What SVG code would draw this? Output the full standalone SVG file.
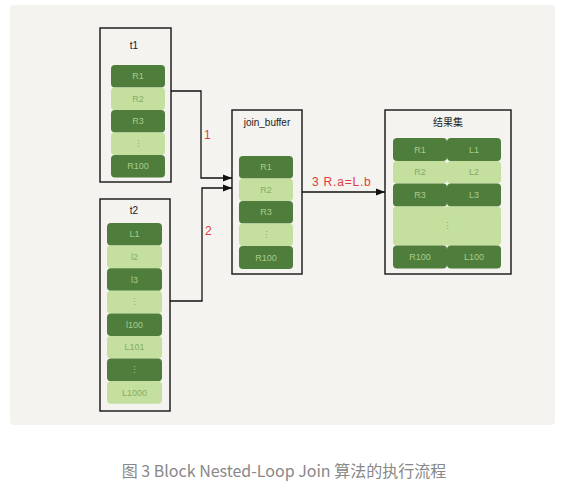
<svg xmlns="http://www.w3.org/2000/svg" width="569" height="492" viewBox="0 0 569 492">
<defs>
<style>
.box{fill:#f4f3ef;stroke:#222;stroke-width:1.5}
.d{fill:#4f7d3b}
.l{fill:#c5df9e}
.td{font-family:"Liberation Sans",sans-serif;font-size:9px;fill:#a9cc8c;text-anchor:middle;dominant-baseline:central}
.tl{font-family:"Liberation Sans",sans-serif;font-size:9px;fill:#86ad62;text-anchor:middle;dominant-baseline:central}
.hd{font-family:"Liberation Sans","Noto Sans CJK SC",sans-serif;font-size:10px;fill:#222;text-anchor:middle;dominant-baseline:central}
.red{font-family:"Liberation Sans",sans-serif;font-size:12px;fill:#e03c3c;dominant-baseline:central}
.ln{fill:none;stroke:#111;stroke-width:1.3}
</style>
<marker id="ar" viewBox="0 0 10 10" refX="10" refY="5" markerWidth="7" markerHeight="7" orient="auto"><path d="M0,1 L10,5 L0,9 z" fill="#111"/></marker>
</defs>
<rect x="10" y="5" width="545" height="420" rx="4" fill="#f4f3ef"/>
<g id="t1">
<rect class="box" x="100" y="28" width="71" height="154"/>
<text class="hd" x="134" y="45">t1</text>
<rect class="d" x="111" y="65" width="54" height="22.5" rx="4"/><text class="td" x="138" y="76">R1</text>
<rect class="l" x="111" y="87.5" width="54" height="22.5" rx="4"/><text class="tl" x="138" y="99">R2</text>
<rect class="d" x="111" y="110" width="54" height="22.5" rx="4"/><text class="td" x="138" y="121">R3</text>
<rect class="l" x="111" y="132.5" width="54" height="22.5" rx="4"/><text class="tl" x="138" y="144">⋮</text>
<rect class="d" x="111" y="155" width="54" height="22.5" rx="4"/><text class="td" x="138" y="166">R100</text>
</g>
<g id="t2">
<rect class="box" x="100" y="199" width="70" height="212"/>
<text class="hd" x="134" y="210">t2</text>
<rect class="d" x="107" y="223" width="55" height="22.6" rx="4"/><text class="td" x="134.5" y="234">L1</text>
<rect class="l" x="107" y="245.6" width="55" height="22.6" rx="4"/><text class="tl" x="134.5" y="257">l2</text>
<rect class="d" x="107" y="268.2" width="55" height="22.6" rx="4"/><text class="td" x="134.5" y="279.5">l3</text>
<rect class="l" x="107" y="290.8" width="55" height="22.6" rx="4"/><text class="tl" x="134.5" y="302">⋮</text>
<rect class="d" x="107" y="313.4" width="55" height="22.6" rx="4"/><text class="td" x="134.5" y="324.7">l100</text>
<rect class="l" x="107" y="336" width="55" height="22.6" rx="4"/><text class="tl" x="134.5" y="347.3">L101</text>
<rect class="d" x="107" y="358.6" width="55" height="22.6" rx="4"/><text class="td" x="134.5" y="370">⋮</text>
<rect class="l" x="107" y="381.2" width="55" height="22.6" rx="4"/><text class="tl" x="134.5" y="392.5">L1000</text>
</g>
<g id="join_buffer">
<rect class="box" x="232" y="110" width="70" height="164"/>
<text class="hd" x="267" y="122">join_buffer</text>
<rect class="d" x="239" y="156" width="54" height="22.5" rx="4"/><text class="td" x="266" y="167">R1</text>
<rect class="l" x="239" y="178.5" width="54" height="22.5" rx="4"/><text class="tl" x="266" y="190">R2</text>
<rect class="d" x="239" y="201" width="54" height="22.5" rx="4"/><text class="td" x="266" y="212">R3</text>
<rect class="l" x="239" y="223.5" width="54" height="22.5" rx="4"/><text class="tl" x="266" y="235">⋮</text>
<rect class="d" x="239" y="246" width="54" height="23" rx="4"/><text class="td" x="266" y="257.5">R100</text>
</g>
<g id="result">
<rect class="box" x="385" y="110" width="126" height="164"/>
<text class="hd" x="448" y="122">结果集</text>
<rect class="d" x="393" y="138" width="54" height="23" rx="4"/><text class="td" x="420" y="149.5">R1</text>
<rect class="d" x="447" y="138" width="54" height="23" rx="4"/><text class="td" x="474" y="149.5">L1</text>
<rect class="l" x="393" y="161" width="54" height="22.5" rx="4"/><text class="tl" x="420" y="172">R2</text>
<rect class="l" x="447" y="161" width="54" height="22.5" rx="4"/><text class="tl" x="474" y="172">L2</text>
<rect class="d" x="393" y="183.5" width="54" height="23" rx="4"/><text class="td" x="420" y="195">R3</text>
<rect class="d" x="447" y="183.5" width="54" height="23" rx="4"/><text class="td" x="474" y="195">L3</text>
<rect class="l" x="393" y="206.5" width="108" height="39" rx="4"/><text class="tl" x="447" y="226">⋮</text>
<rect class="d" x="393" y="245.5" width="54" height="23" rx="4"/><text class="td" x="420" y="257">R100</text>
<rect class="d" x="447" y="245.5" width="54" height="23" rx="4"/><text class="td" x="474" y="257">L100</text>
</g>
<g id="connectors">
<path class="ln" d="M171,91 H201 V178 H232" marker-end="url(#ar)"/>
<path class="ln" d="M170,301 H202 V188 H232" marker-end="url(#ar)"/>
<path class="ln" d="M302,192 H385" marker-end="url(#ar)"/>
<text class="red" x="204" y="135">1</text>
<text class="red" x="205" y="231">2</text>
<text class="red" x="312" y="182" letter-spacing="0.8">3  R.a=L.b</text>
</g>
<text x="284" y="470" font-family="'Noto Sans CJK SC','Liberation Sans',sans-serif" font-size="16" fill="#888" text-anchor="middle" dominant-baseline="central">图 3 Block Nested-Loop Join 算法的执行流程</text>
</svg>
